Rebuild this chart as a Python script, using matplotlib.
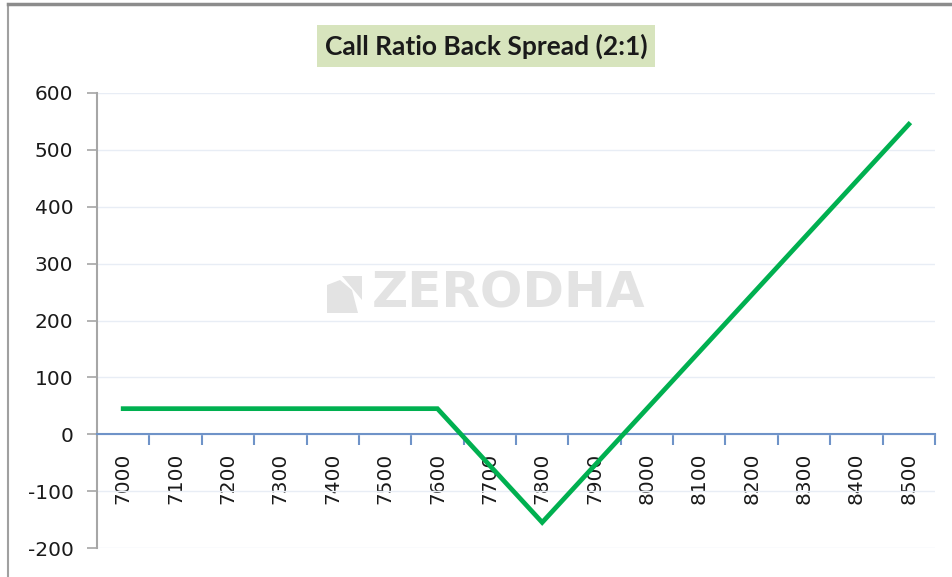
import matplotlib
matplotlib.use('Agg')
import matplotlib.pyplot as plt
from matplotlib.ticker import FixedLocator
from matplotlib.patches import Polygon

# payoff of the 2:1 call ratio back spread
strikes = [7000, 7100, 7200, 7300, 7400, 7500, 7600, 7700,
           7800, 7900, 8000, 8100, 8200, 8300, 8400, 8500]
payoff = [45, 45, 45, 45, 45, 45, 45, -55,
          -155, -55, 45, 145, 245, 345, 445, 545]
y_ticks = [-200, -100, 0, 100, 200, 300, 400, 500, 600]

fig = plt.figure(figsize=(9.53, 5.77), dpi=100)
ax = fig.add_axes([97 / 953, 1 - 548 / 577, (935 - 97) / 953, (548 - 93) / 577])

pos = list(range(len(strikes)))
ax.plot(pos, payoff, color='#00B050', linewidth=3.4, solid_joinstyle='miter', zorder=3)

ax.set_xlim(-0.5, len(strikes) - 0.5)
ax.set_ylim(-200, 600)

# y axis
ax.set_yticks(y_ticks)
ax.set_yticklabels([str(v) for v in y_ticks])
ax.tick_params(axis='y', direction='out', length=7, width=1.2, color='#A6A6A6',
               labelsize=14.5, labelcolor='#1a1a1a', pad=10)
ax.grid(axis='y', color='#E8EDF5', linewidth=1)
ax.set_axisbelow(True)

# category axis sits on the zero line
ax.spines['bottom'].set_position(('data', 0))
ax.spines['bottom'].set_color('#6F93C8')
ax.spines['bottom'].set_linewidth(1.5)
ax.spines['left'].set_color('#A6A6A6')
ax.spines['left'].set_linewidth(1.5)
ax.spines['top'].set_visible(False)
ax.spines['right'].set_visible(False)

ax.set_xticks(pos)
ax.set_xticklabels([str(s) for s in strikes], rotation=90)
ax.xaxis.set_minor_locator(FixedLocator([p + 0.5 for p in pos]))
ax.tick_params(axis='x', which='major', length=0, labelsize=14.5,
               labelcolor='#1a1a1a', pad=13)
ax.tick_params(axis='x', which='minor', direction='out', length=8, width=1.5,
               color='#6F93C8')

# title in a shaded box
fig.text(486 / 953, 1 - 46 / 577, 'Call Ratio Back Spread (2:1)',
         ha='center', va='center', fontsize=19, fontweight='bold',
         family=['Lato', 'DejaVu Sans'], color='#1a1a1a',
         bbox=dict(boxstyle='square,pad=0.3', facecolor='#D7E4BD', edgecolor='none'))

# watermark
fig.text(372 / 953, 1 - 294 / 577, 'ZERODHA', ha='left', va='center',
         fontsize=36, fontweight='bold', color='#E3E3E3', zorder=0)
logo = Polygon([(327 / 953, 1 - 313 / 577), (327 / 953, 1 - 285 / 577),
                (340 / 953, 1 - 280 / 577), (352 / 953, 1 - 290 / 577),
                (358 / 953, 1 - 313 / 577)],
               closed=True, transform=fig.transFigure, facecolor='#E3E3E3',
               edgecolor='none', zorder=0)
fig.patches.append(logo)
logo2 = Polygon([(342 / 953, 1 - 276 / 577), (362 / 953, 1 - 276 / 577),
                 (362 / 953, 1 - 300 / 577)],
                closed=True, transform=fig.transFigure, facecolor='#E3E3E3',
                edgecolor='none', zorder=0)
fig.patches.append(logo2)

# outer chart frame (left and top edges visible)
fig.add_artist(plt.Line2D([8 / 953, 8 / 953], [0, 1 - 4 / 577], color='#A0A0A0',
                          linewidth=1.5, transform=fig.transFigure))
fig.add_artist(plt.Line2D([8 / 953, 1], [1 - 4 / 577, 1 - 4 / 577], color='#8C8C8C',
                          linewidth=2.5, transform=fig.transFigure))

fig.savefig('out.png', dpi=100)
